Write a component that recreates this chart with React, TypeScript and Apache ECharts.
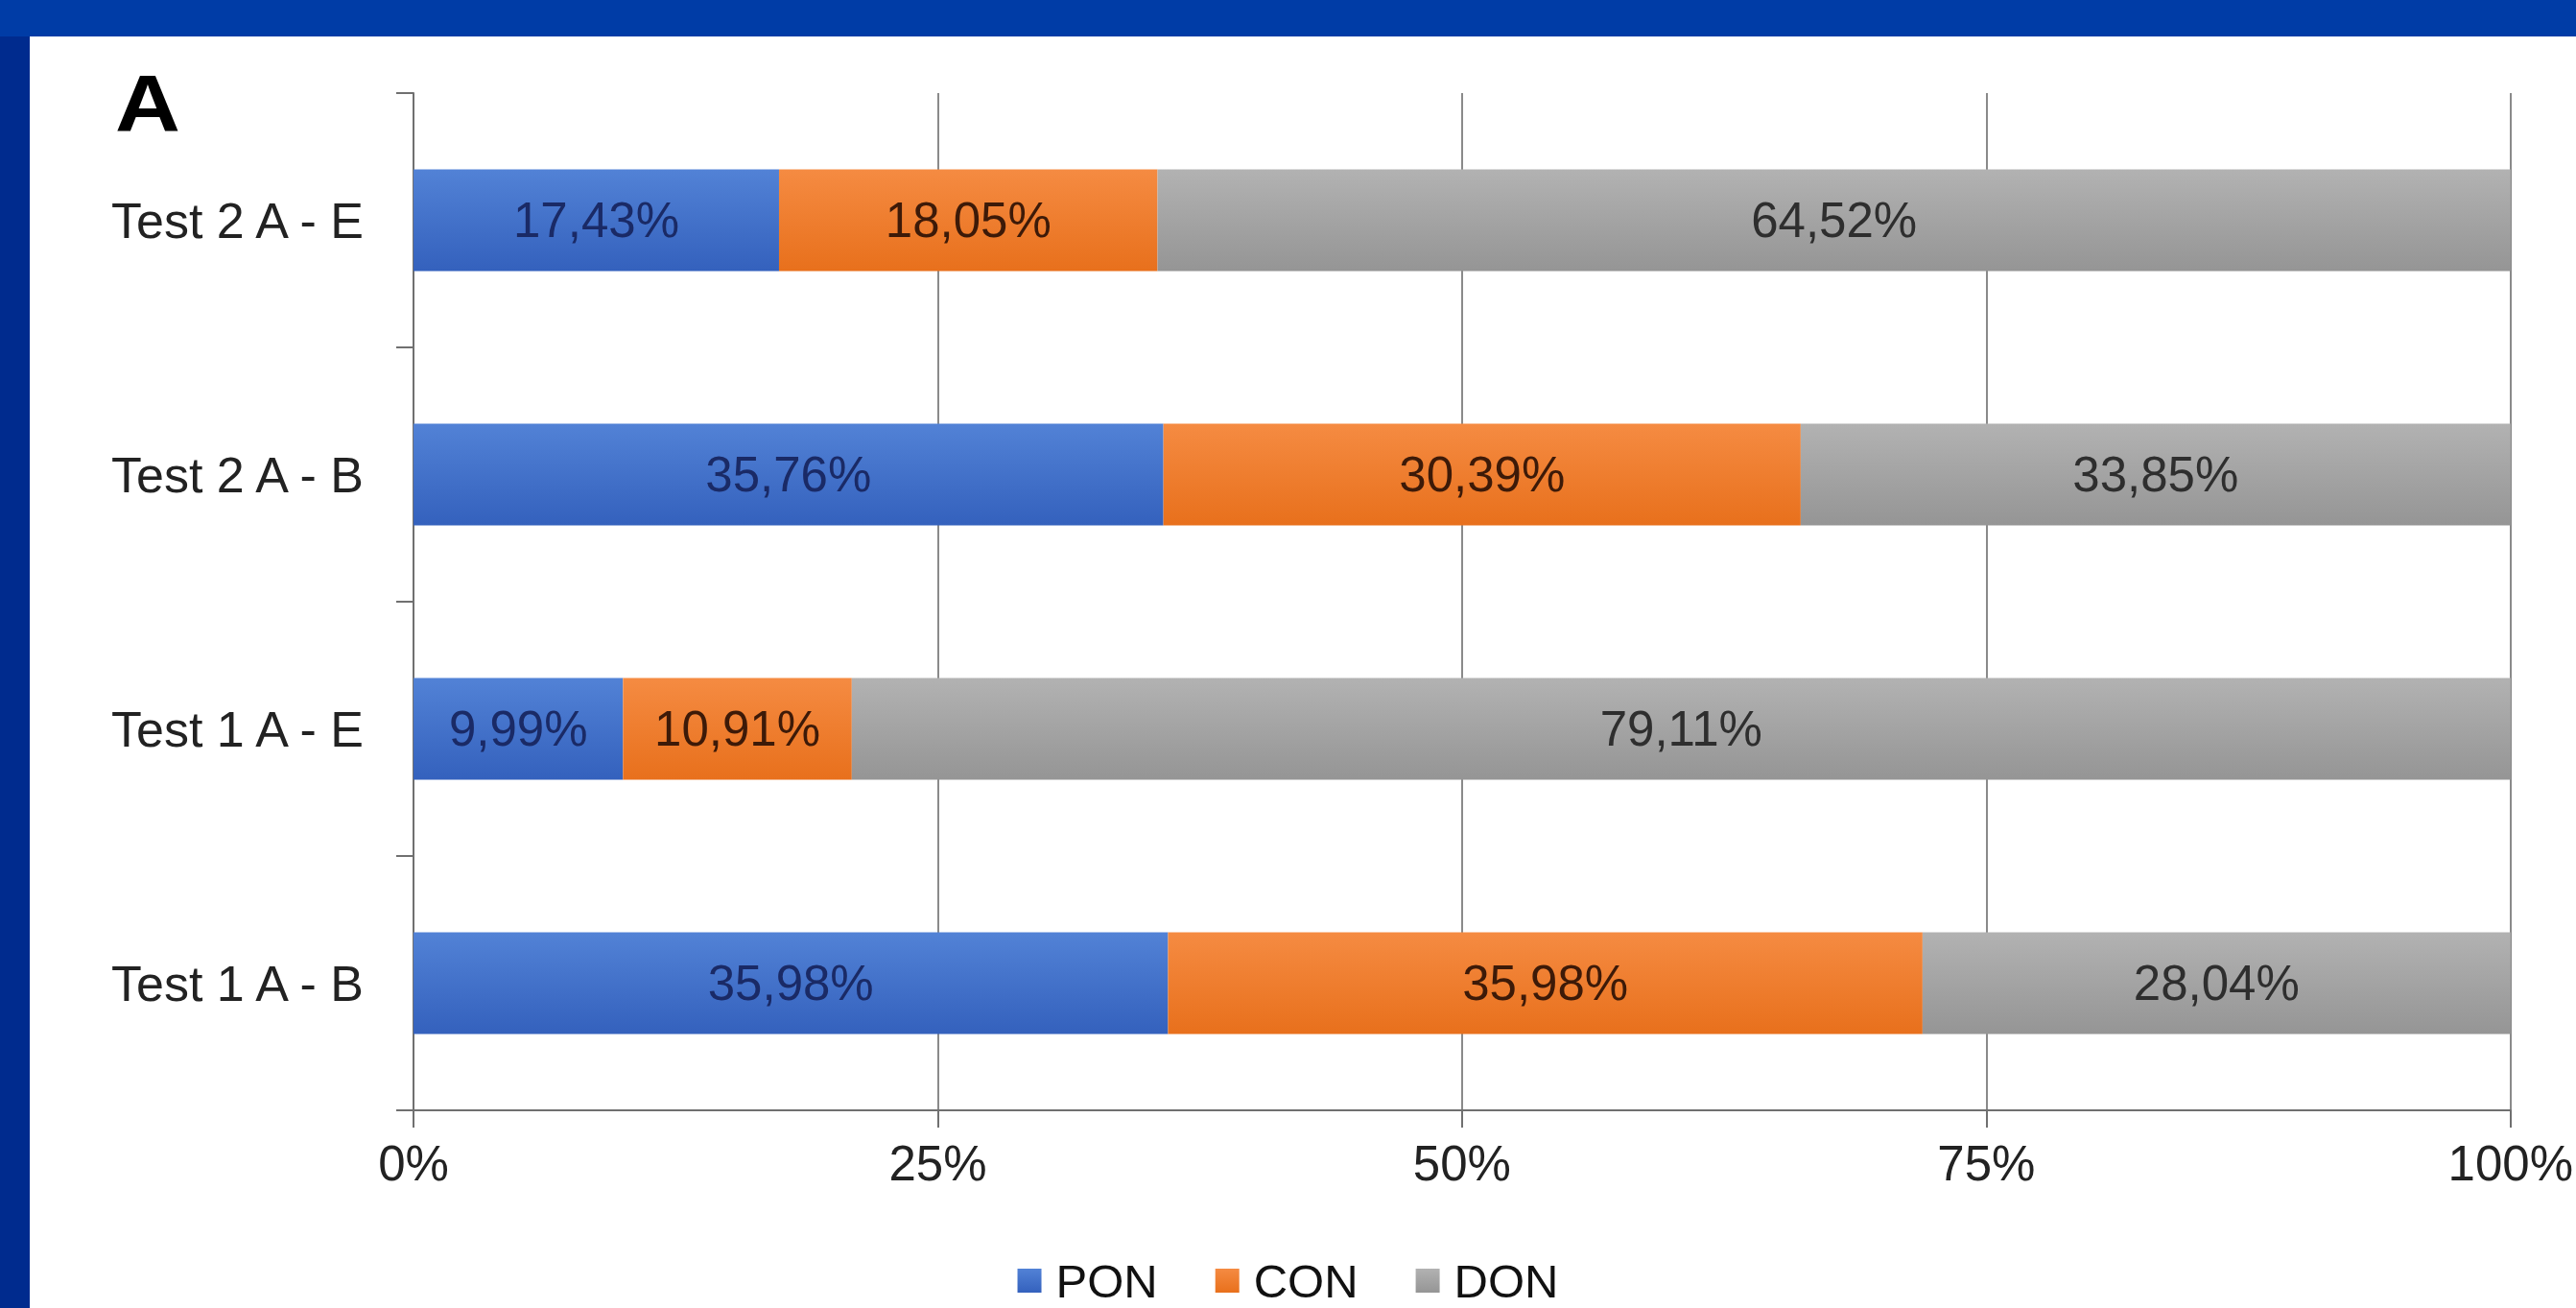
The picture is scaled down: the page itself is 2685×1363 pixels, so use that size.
import React, { useEffect, useRef } from "react";
import * as echarts from "echarts";

// Categories listed bottom-to-top (category y axis starts at the bottom)
const categories = ["Test 1 A - B", "Test 1 A - E", "Test 2 A - B", "Test 2 A - E"];
const ponValues = [35.98, 9.99, 35.76, 17.43];
const conValues = [35.98, 10.91, 30.39, 18.05];
const donValues = [28.04, 79.11, 33.85, 64.52];
const xTicks = [0, 25, 50, 75, 100];

const W = 2685;
const H = 1363;
const FONT = "'Liberation Sans', Arial, Helvetica, sans-serif";

const fmtPct = (v: number) => v.toFixed(2).replace(".", ",") + "%";

export default function App() {
  const ref = useRef<HTMLDivElement>(null);

  useEffect(() => {
    if (!ref.current) return;
    const chart = echarts.init(ref.current, undefined, { renderer: "svg" });

    const grad = (top: string, bottom: string) =>
      new echarts.graphic.LinearGradient(0, 0, 0, 1, [
        { offset: 0, color: top },
        { offset: 1, color: bottom },
      ]);

    const makeSeries = (
      name: string,
      data: number[],
      top: string,
      bottom: string,
      labelColor: string
    ) => ({
      name,
      type: "bar",
      stack: "total",
      data,
      barCategoryGap: "60%",
      itemStyle: { color: grad(top, bottom) },
      label: {
        show: true,
        position: "inside",
        color: labelColor,
        fontFamily: FONT,
        fontSize: 51,
        formatter: (p: any) => fmtPct(p.value),
      },
    });

    chart.setOption({
      animation: false,
      backgroundColor: "#003ca6",
      graphic: [
        { type: "rect", shape: { x: 0, y: 38, width: 31, height: H - 38 }, style: { fill: "#002b8e" }, z: -10 },
        { type: "rect", shape: { x: 31, y: 38, width: W - 31, height: H - 38 }, style: { fill: "#ffffff" }, z: -10 },
        {
          type: "text",
          x: 120,
          y: 108,
          scaleX: 1.12,
          style: {
            text: "A",
            fontFamily: FONT,
            fontWeight: "bold",
            fontSize: 84,
            fill: "#000",
            textVerticalAlign: "middle",
          },
        },
      ],
      legend: {
        data: ["PON", "CON", "DON"],
        left: "center",
        top: 1305,
        icon: "rect",
        itemWidth: 25,
        itemHeight: 25,
        itemGap: 60,
        textStyle: { fontFamily: FONT, fontSize: 49, color: "#111", padding: [0, 0, 0, 10] },
      },
      grid: { left: 431, right: 57, top: 97, bottom: 206, containLabel: false },
      xAxis: {
        type: "value",
        min: xTicks[0],
        max: xTicks[xTicks.length - 1],
        interval: 25,
        axisLine: { show: true, lineStyle: { color: "#707070", width: 2 } },
        axisTick: { show: true, length: 18, lineStyle: { color: "#707070", width: 2 } },
        splitLine: { show: true, lineStyle: { color: "#8a8a8a", width: 2 } },
        axisLabel: {
          margin: 30,
          fontFamily: FONT,
          fontSize: 51,
          color: "#222",
          formatter: (v: number) => v + "%",
        },
      },
      yAxis: {
        type: "category",
        data: categories,
        axisLine: { show: true, lineStyle: { color: "#707070", width: 2 } },
        axisTick: { show: true, length: 18, lineStyle: { color: "#707070", width: 2 } },
        axisLabel: { margin: 52, fontFamily: FONT, fontSize: 52, color: "#222" },
      },
      series: [
        makeSeries("PON", ponValues, "#5282d6", "#3461bd", "#1a2a66"),
        makeSeries("CON", conValues, "#f58b42", "#e8701c", "#3d1a08"),
        makeSeries("DON", donValues, "#b2b2b2", "#959595", "#2e2e2e"),
      ],
    });

    return () => chart.dispose();
  }, []);

  return (
    <div
      ref={ref}
      style={{ position: "fixed", left: 0, top: 0, width: W, height: H }}
    />
  );
}
